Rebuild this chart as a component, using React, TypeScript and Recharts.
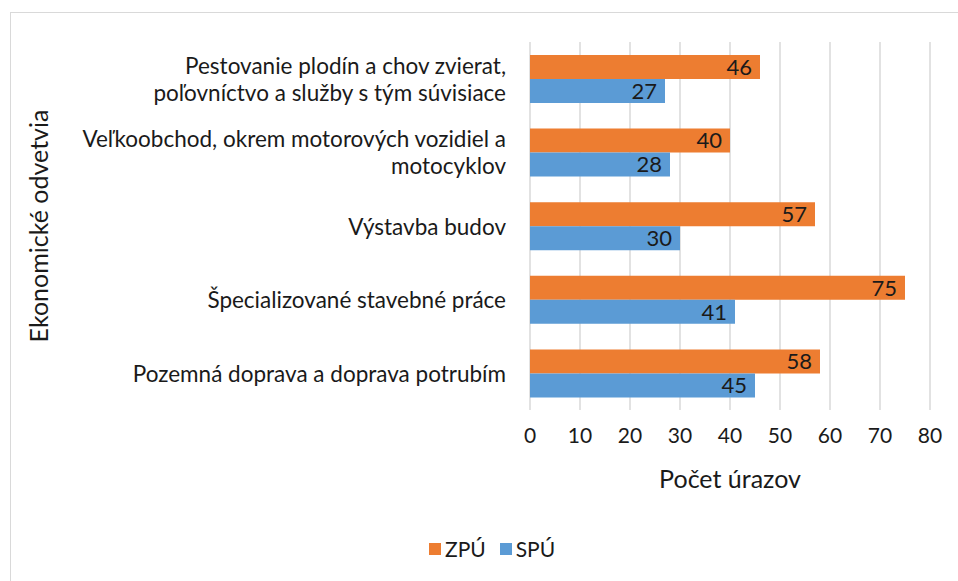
import React from "react";
import { BarChart, Bar, XAxis, YAxis, CartesianGrid, LabelList } from "recharts";

const categories = [
  "Pestovanie plodín a chov zvierat, poľovníctvo a služby s tým súvisiace",
  "Veľkoobchod, okrem motorových vozidiel a motocyklov",
  "Výstavba budov",
  "Špecializované stavebné práce",
  "Pozemná doprava a doprava potrubím",
];
const categoryLines = [
  ["Pestovanie plodín a chov zvierat,", "poľovníctvo a služby s tým súvisiace"],
  ["Veľkoobchod, okrem motorových vozidiel a", "motocyklov"],
  ["Výstavba budov"],
  ["Špecializované stavebné práce"],
  ["Pozemná doprava a doprava potrubím"],
];
const zpu = [46, 40, 57, 75, 58];
const spu = [27, 28, 30, 41, 45];
const xTicks = [0, 10, 20, 30, 40, 50, 60, 70, 80];
const seriesNames = ["ZPÚ", "SPÚ"];
const seriesColors = ["#ED7D31", "#5B9BD5"];

const data = categories.map((c, i) => ({ name: c, zpu: zpu[i], spu: spu[i], idx: i }));

const FONT = "Lato, 'Open Sans', sans-serif";
const TEXT = "#1a1a1a";

const CatTick = (props: any) => {
  const { x, y, payload } = props;
  const idx = categories.indexOf(payload.value);
  const lines = categoryLines[idx] || [payload.value];
  const lh = 27;
  const start = y - ((lines.length - 1) * lh) / 2;
  return (
    <g>
      {lines.map((l, i) => (
        <text
          key={i}
          x={x}
          y={start + i * lh}
          textAnchor="end"
          dominantBaseline="central"
          fontFamily={FONT}
          fontSize={22.5}
          fill={TEXT}
        >
          {l}
        </text>
      ))}
    </g>
  );
};

export default function App() {
  return (
    <div style={{ position: "absolute", left: 0, top: 0, width: 958, height: 581, overflow: "hidden", background: "#fff" }}>
      <div
        style={{
          position: "absolute",
          left: 10,
          top: 12,
          width: 980,
          height: 600,
          border: "1px solid #d9d9d9",
          boxSizing: "border-box",
        }}
      />
      <div style={{ position: "absolute", left: 0, top: 0 }}>
        <BarChart
          width={958}
          height={581}
          data={data}
          layout="vertical"
          margin={{ top: 42, right: 28, left: 0, bottom: 81 }}
          barGap={0}
          barSize={24}
        >
          <CartesianGrid horizontal={false} vertical={true} stroke="#d9d9d9" strokeWidth={1.5} />
          <XAxis
            type="number"
            domain={[0, 80]}
            ticks={xTicks}
            interval={0}
            axisLine={false}
            tickLine={false}
            tickMargin={12}
            height={90}
            tick={{ fontFamily: FONT, fontSize: 21, fill: TEXT }}
            label={{
              value: "Počet úrazov",
              position: "insideBottom",
              offset: 12,
              style: { fontFamily: FONT, fontSize: 25, fill: TEXT },
            }}
          />
          <YAxis
            type="category"
            dataKey="name"
            width={530}
            axisLine={false}
            tickLine={false}
            tickMargin={18}
            interval={0}
            tick={<CatTick />}
            label={{
              content: (p: any) => {
                const vb = p.viewBox || {};
                const cy = (vb.y || 0) + (vb.height || 0) / 2;
                return (
                  <text
                    x={38}
                    y={cy}
                    transform={`rotate(-90, 38, ${cy})`}
                    textAnchor="middle"
                    dominantBaseline="central"
                    fontFamily={FONT}
                    fontSize={25}
                    fill={TEXT}
                  >
                    Ekonomické odvetvia
                  </text>
                );
              },
            }}
          />
          <Bar dataKey="zpu" name={seriesNames[0]} fill={seriesColors[0]} isAnimationActive={false}>
            <LabelList dataKey="zpu" position="insideRight" offset={8} style={{ fontFamily: FONT, fontSize: 22, fill: TEXT }} />
          </Bar>
          <Bar dataKey="spu" name={seriesNames[1]} fill={seriesColors[1]} isAnimationActive={false}>
            <LabelList dataKey="spu" position="insideRight" offset={8} style={{ fontFamily: FONT, fontSize: 22, fill: TEXT }} />
          </Bar>
        </BarChart>
      </div>
      <div
        style={{
          position: "absolute",
          left: 429,
          top: 536,
          display: "flex",
          alignItems: "center",
          fontFamily: FONT,
          fontSize: 21,
          color: TEXT,
        }}
      >
        {seriesNames.map((n, i) => (
          <div key={n} style={{ display: "flex", alignItems: "center", marginRight: 14 }}>
            <span style={{ display: "inline-block", width: 12, height: 12, background: seriesColors[i], marginRight: 4 }} />
            <span>{n}</span>
          </div>
        ))}
      </div>
    </div>
  );
}
